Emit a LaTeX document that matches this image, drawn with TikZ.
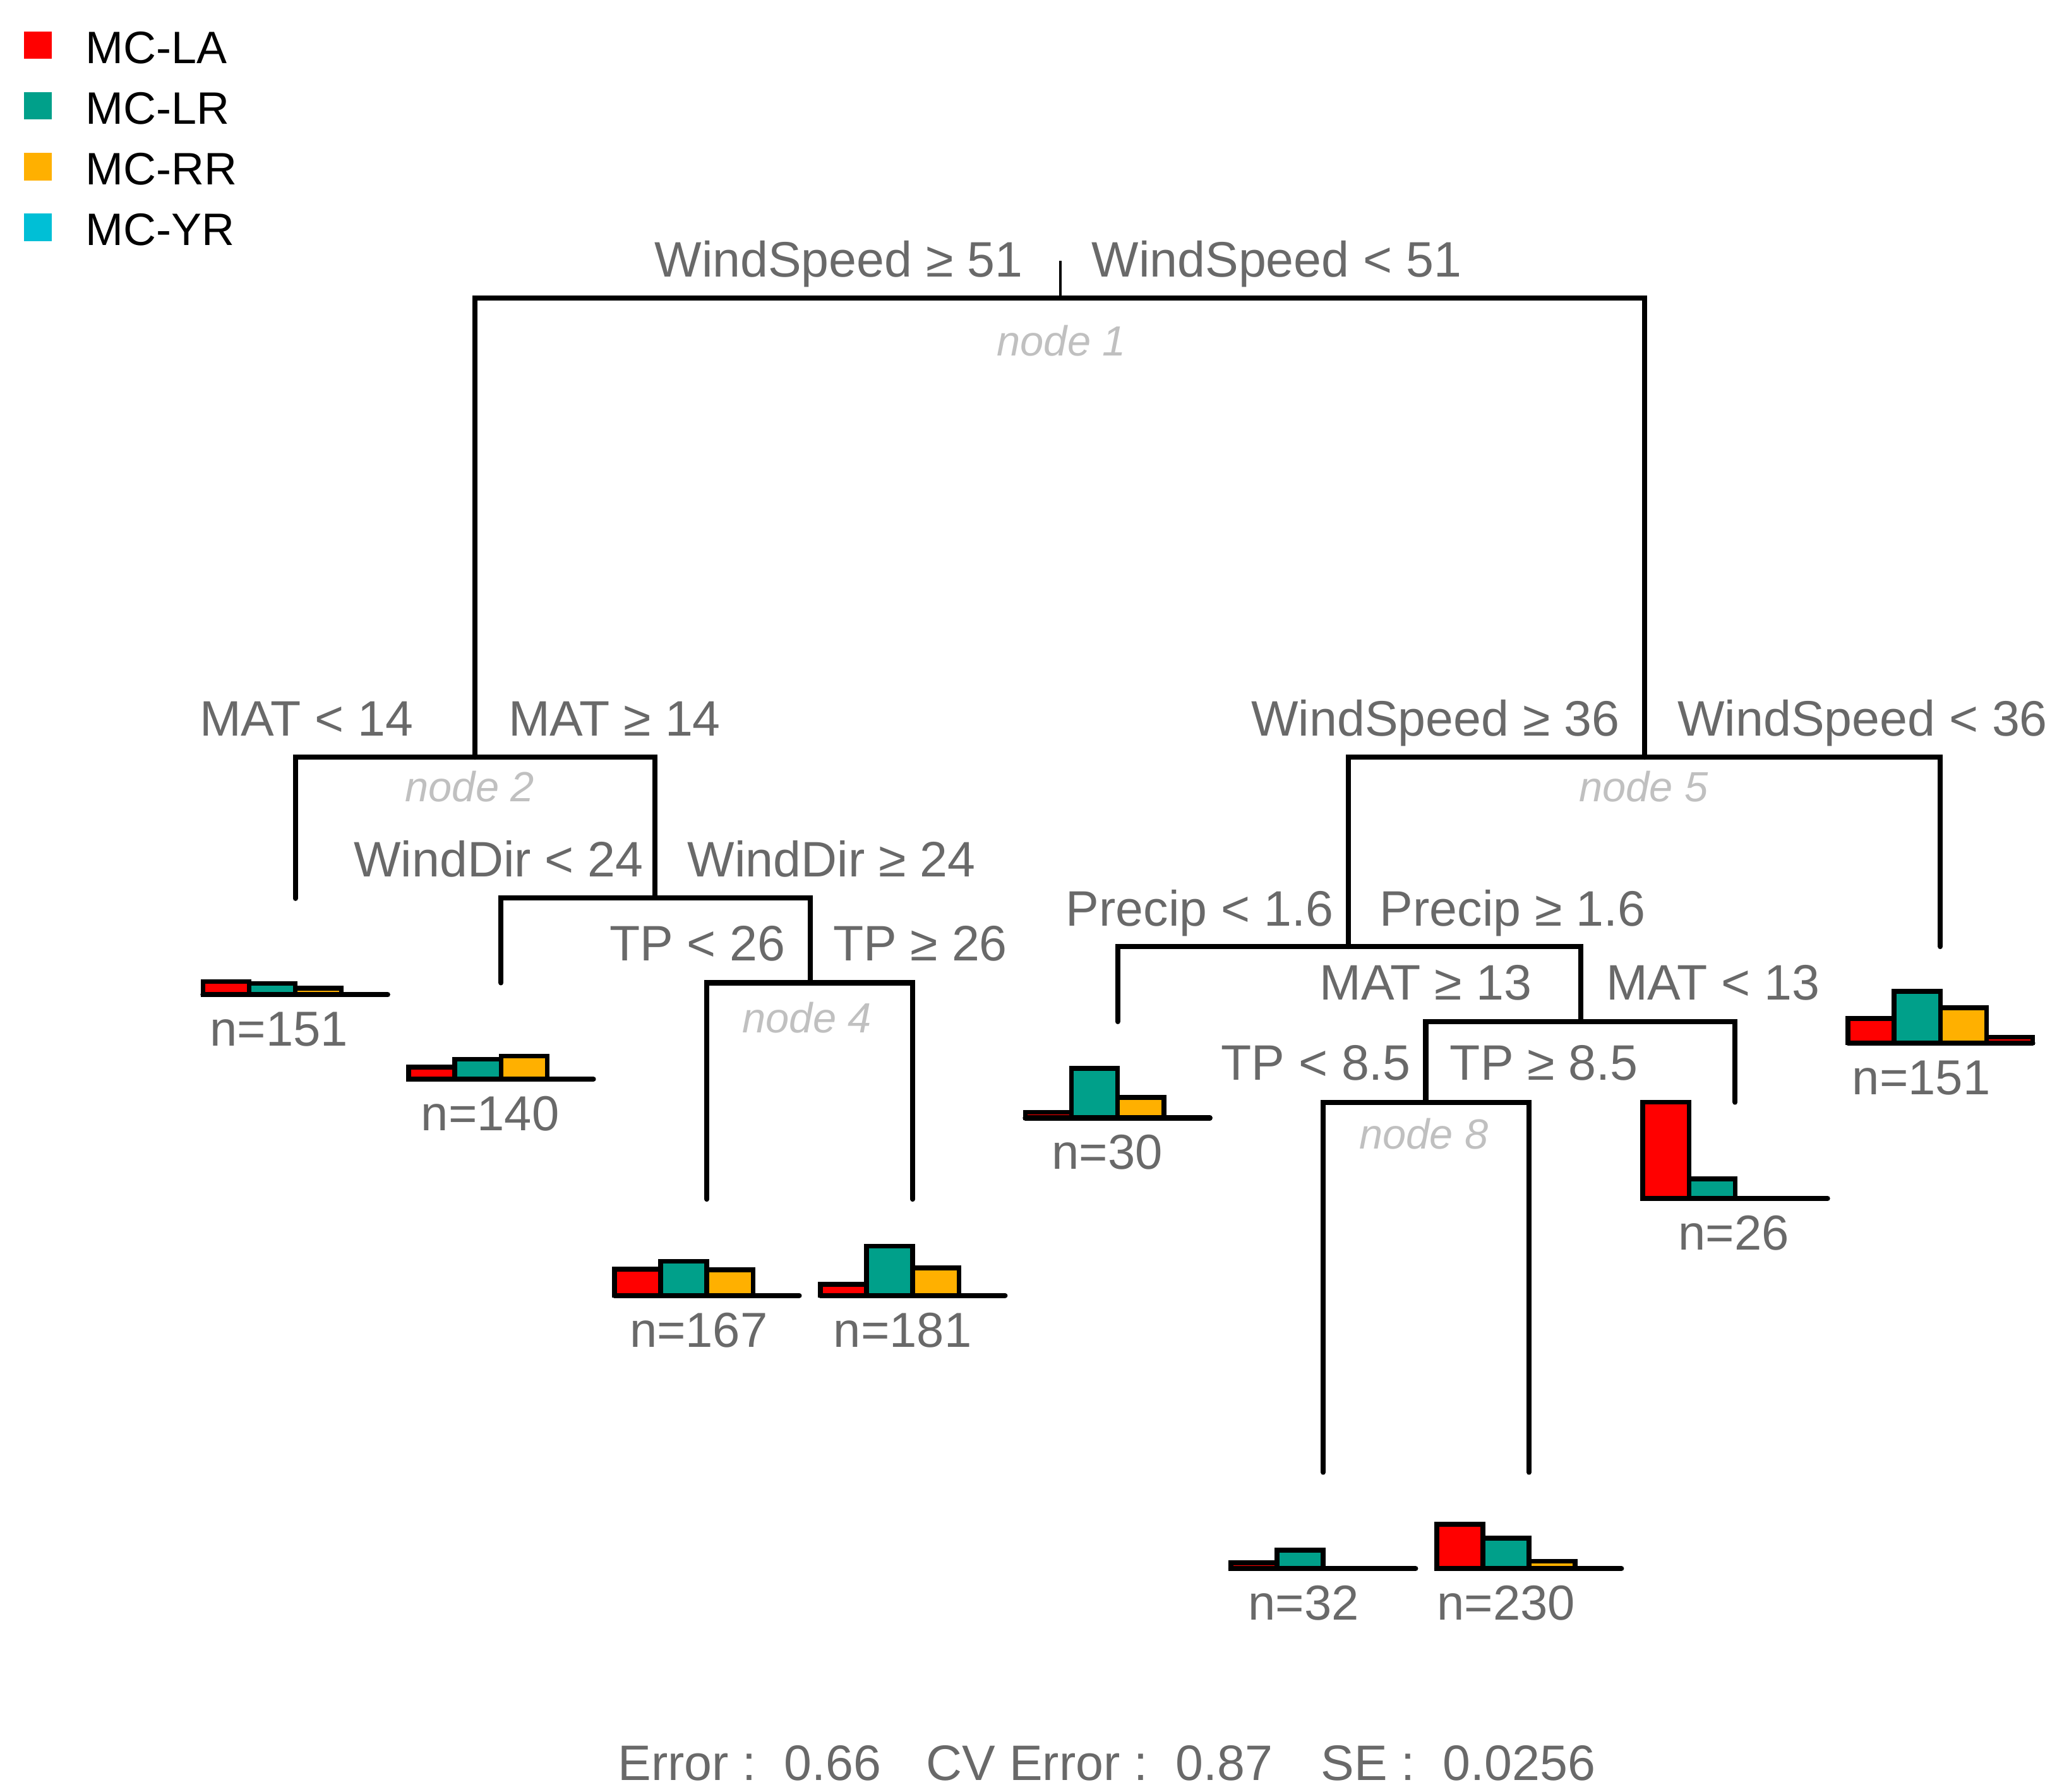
\documentclass[tikz,border=0pt]{standalone}
\usepackage{fontspec}
\setmainfont{Liberation Sans}
\usetikzlibrary{calc}
\definecolor{txtgray}{RGB}{105,105,105}
\definecolor{nodegray}{RGB}{192,192,192}
\definecolor{cLA}{RGB}{255,0,0}
\definecolor{cLR}{RGB}{0,160,138}
\definecolor{cRR}{RGB}{255,176,0}
\definecolor{cYR}{RGB}{0,191,214}
\tikzset{
  tree/.style={line width=2.2pt, line cap=round, line join=miter},
  rootstub/.style={line width=1.2pt},
  bar/.style={line width=2.05pt, line join=miter, draw=black},
  baseln/.style={line width=2.2pt, line cap=round},
  split/.style={text=txtgray, inner sep=0pt, font=\fontsize{21.5}{25}\selectfont},
  nodelab/.style={text=nodegray, inner sep=0pt, anchor=base, font=\fontsize{18.2}{22}\selectfont\itshape},
  nlabel/.style={text=txtgray, inner sep=0pt, anchor=base, font=\fontsize{21.2}{25}\selectfont},
  legtxt/.style={text=black, inner sep=0pt, anchor=base west, font=\fontsize{19.6}{23}\selectfont},
}
% #1 leaf coordinate, #2-#5 bar heights, #6 fill of 4th bar, #7 label, #8 label x offset
\newcommand{\leafbars}[8]{%
  \begin{scope}[shift={($(#1)+(0,73)$)}]
    \draw[bar,fill=cLA] (-70,0) rectangle (-35,-#2);
    \draw[bar,fill=cLR] (-35,0) rectangle (0,-#3);
    \draw[bar,fill=cRR] (0,0) rectangle (35,-#4);
    \draw[bar,fill=#6] (35,0) rectangle (70,-#5);
    \draw[baseln] (-70,0) -- (70,0);
    \node[nlabel] (#1-n) at (#8,39) {#7};
  \end{scope}}
\begin{document}
\begin{tikzpicture}[x=0.02cm,y=-0.02cm]
\useasboundingbox[fill=white] (0,0) rectangle (1568,1358.3);

% legend
\fill[cLA] (18.3,23.9) rectangle (39.1,44.7);
\fill[cLR] (18.3,69.9) rectangle (39.1,90.7);
\fill[cRR] (18.3,115.9) rectangle (39.1,136.7);
\fill[cYR] (18.3,161.9) rectangle (39.1,182.7);
\node[legtxt] (lg1) at (64.5,47.9) {MC-LA};
\node[legtxt] (lg2) at (64.5,93.9) {MC-LR};
\node[legtxt] (lg3) at (64.5,139.9) {MC-RR};
\node[legtxt] (lg4) at (64.5,185.9) {MC-YR};

% tree coordinates
\coordinate (t1) at (803.5,197.6);
\coordinate (n1) at (803.5,226);
\coordinate (n2) at (360,574);
\coordinate (n5) at (1246.4,574);
\coordinate (L1) at (223.8,681);
\coordinate (n3) at (496.4,680.5);
\coordinate (L2) at (379.7,745);
\coordinate (n4) at (614,745);
\coordinate (L3) at (535.7,909);
\coordinate (L4) at (691.7,909);
\coordinate (n6) at (1022,717.5);
\coordinate (L9) at (1470.5,717.5);
\coordinate (L5) at (847,774.4);
\coordinate (n7) at (1198,774.4);
\coordinate (n8) at (1080.5,835.5);
\coordinate (L8) at (1315,835.5);
\coordinate (L6) at (1002.8,1116);
\coordinate (L7) at (1158.8,1116);

% connectors
\draw[rootstub] (n1) -- (t1);
\draw[tree] (n2) |- (n1) -| (n5);
\draw[tree] (L1) |- (n2) -| (n3);
\draw[tree] (L2) |- (n3) -| (n4);
\draw[tree] (L3) |- (n4) -| (L4);
\draw[tree] (n6) |- (n5) -| (L9);
\draw[tree] (L5) |- (n6) -| (n7);
\draw[tree] (n8) |- (n7) -| (L8);
\draw[tree] (L6) |- (n8) -| (L7);

% split labels
\node[split,anchor=base east] (s1l) at (775.5,209.7) {WindSpeed ≥ 51};
\node[split,anchor=base west] (s1r) at (827,209.7) {WindSpeed < 51};
\node[split,anchor=base east] (s2l) at (313.6,558) {MAT < 14};
\node[split,anchor=base west] (s2r) at (385,558) {MAT ≥ 14};
\node[split,anchor=base east] (s3l) at (487.9,664.7) {WindDir < 24};
\node[split,anchor=base west] (s3r) at (520.8,664.7) {WindDir ≥ 24};
\node[split,anchor=base east] (s4l) at (595.6,728) {TP < 26};
\node[split,anchor=base west] (s4r) at (631,728) {TP ≥ 26};
\node[split,anchor=base east] (s5l) at (1227.7,558) {WindSpeed ≥ 36};
\node[split,anchor=base west] (s5r) at (1271,558) {WindSpeed < 36};
\node[split,anchor=base east] (s6l) at (1010.8,701.8) {Precip < 1.6};
\node[split,anchor=base west] (s6r) at (1045.4,701.8) {Precip ≥ 1.6};
\node[split,anchor=base east] (s7l) at (1161,758) {MAT ≥ 13};
\node[split,anchor=base west] (s7r) at (1216.8,758) {MAT < 13};
\node[split,anchor=base east] (s8l) at (1069.5,818.5) {TP < 8.5};
\node[split,anchor=base west] (s8r) at (1098.5,818.5) {TP ≥ 8.5};

% node numbers
\node[nodelab] (nl1) at (804.5,269.6) {node 1};
\node[nodelab] (nl2) at (356,607.4) {node 2};
\node[nodelab] (nl4) at (611.6,783) {node 4};
\node[nodelab] (nl5) at (1245.5,607.8) {node 5};
\node[nodelab] (nl8) at (1079,871) {node 8};

% leaves
\leafbars{L1}{10}{8.5}{5}{0}{cYR}{n=151}{-12.3}
\leafbars{L2}{9}{15}{17.5}{0}{cYR}{n=140}{-8.2}
\leafbars{L3}{20}{26}{19.5}{0}{cYR}{n=167}{-6.2}
\leafbars{L4}{8.5}{37.5}{21}{0}{cYR}{n=181}{-7.7}
\leafbars{L5}{4.3}{37.5}{15.5}{0}{cYR}{n=30}{-8}
\leafbars{L6}{4.5}{14}{0}{0}{cYR}{n=32}{-14.8}
\leafbars{L7}{33.5}{23}{5.5}{0}{cYR}{n=230}{-17.4}
\leafbars{L8}{73}{15}{0}{0}{cYR}{n=26}{-1}
\leafbars{L9}{18.5}{39}{26.5}{4.3}{cLA}{n=151}{-14.5}

% error line
\node[split,anchor=base west] (e1) at (468,1349.5) {Error :\ \ 0.66};
\node[split,anchor=base west] (e2) at (701.7,1349.5) {CV Error :\ \ 0.87};
\node[split,anchor=base west] (e3) at (1000.8,1349.5) {SE :\ \ 0.0256};
\end{tikzpicture}
\end{document}
